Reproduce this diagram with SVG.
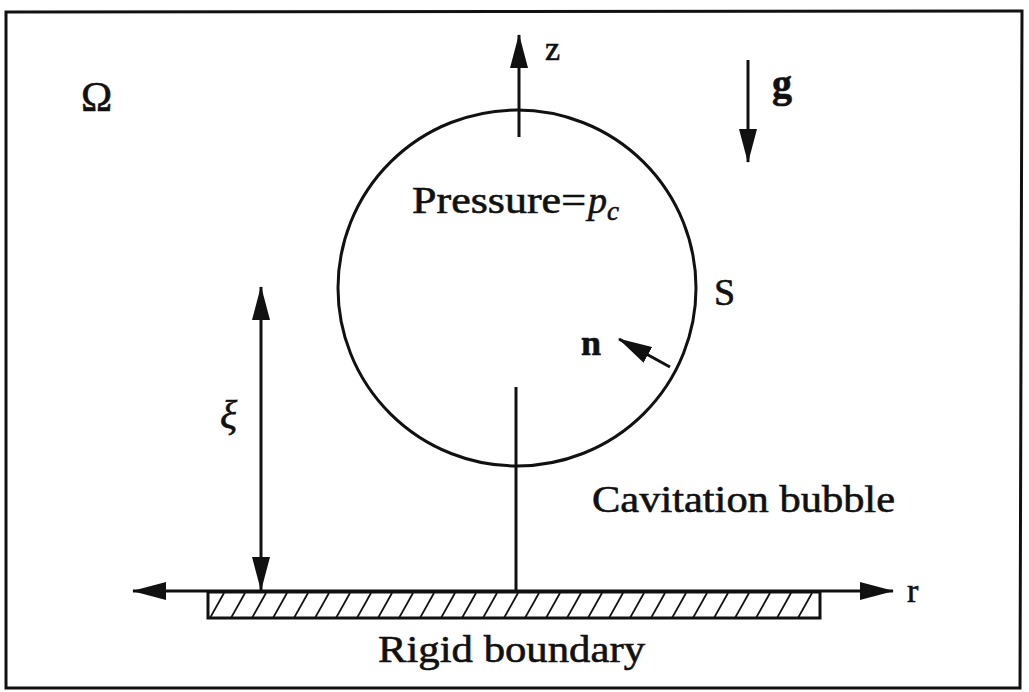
<svg xmlns="http://www.w3.org/2000/svg" width="1029" height="692" viewBox="0 0 1029 692">
<style>
.ln{stroke:#111;stroke-width:3;fill:none}
.t{font-family:"Liberation Serif","DejaVu Serif",serif;fill:#111;stroke:#111;stroke-width:0.6}
</style>
<defs>
<marker id="ah" markerUnits="userSpaceOnUse" markerWidth="34" markerHeight="18" refX="33" refY="9" orient="auto-start-reverse" viewBox="0 0 34 18">
<path d="M0,0 L34,9 L0,18 Z" fill="#111"/>
</marker>
<pattern id="hatch" patternUnits="userSpaceOnUse" x="208" y="593" width="21" height="25">
<path d="M2,25 L16,0" stroke="#111" stroke-width="1.8"/>
</pattern>
</defs>
<rect width="1029" height="692" fill="#fff"/>
<g id="frame"><path d="M6,12 L1022,11 L1020,688 L6,688 Z" class="ln" stroke-width="3"/></g>
<g id="bubble"><ellipse cx="517" cy="288" rx="179" ry="178" class="ln"/></g>
<g id="wall"><rect x="208" y="592" width="612" height="26" fill="url(#hatch)" stroke="#111" stroke-width="3"/></g>
<g id="connectors">
<line x1="519" y1="137" x2="519" y2="35" class="ln" marker-end="url(#ah)"/>
<line x1="748" y1="60" x2="748" y2="162" class="ln" marker-end="url(#ah)"/>
<line x1="670" y1="367" x2="619" y2="339" class="ln" marker-end="url(#ah)"/>
<line x1="261" y1="287" x2="261" y2="590" class="ln" marker-start="url(#ah)" marker-end="url(#ah)"/>
<line x1="516" y1="387" x2="516" y2="591" class="ln"/>
<line x1="133" y1="591" x2="893" y2="591" class="ln" marker-start="url(#ah)" marker-end="url(#ah)"/>
</g>
<g id="labels">
<text class="t" x="81" y="111" font-size="42">Ω</text>
<text class="t" x="545" y="60" font-size="34">z</text>
<text class="t" x="772" y="97" font-size="40" font-weight="bold">g</text>
<text class="t" x="412" y="213" font-size="38"><tspan textLength="174" lengthAdjust="spacingAndGlyphs">Pressure=</tspan><tspan x="588" font-style="italic">p</tspan><tspan font-style="italic" font-size="27" dy="7">c</tspan></text>
<text class="t" x="714" y="305" font-size="38">S</text>
<text class="t" x="581" y="355" font-size="36" font-weight="bold">n</text>
<text class="t" x="220" y="428" font-size="40" font-style="italic">ξ</text>
<text class="t" x="592" y="512" font-size="38" textLength="303" lengthAdjust="spacingAndGlyphs">Cavitation bubble</text>
<text class="t" x="907" y="602" font-size="34">r</text>
<text class="t" x="378" y="662" font-size="38" textLength="267" lengthAdjust="spacingAndGlyphs">Rigid boundary</text>
</g>
</svg>
